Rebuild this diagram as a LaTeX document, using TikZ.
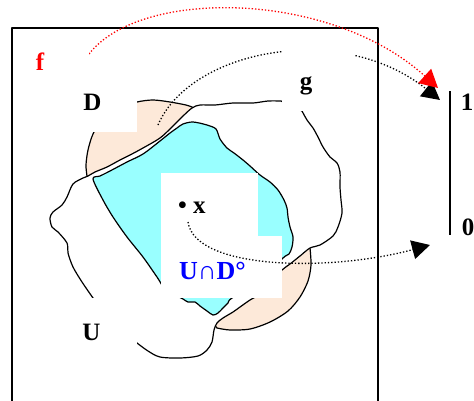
\documentclass[tikz,border=0pt]{standalone}
\usepackage{fontspec}
\setmainfont{Liberation Serif}
\usetikzlibrary{arrows.meta}
\definecolor{peach}{RGB}{253,233,217}
\definecolor{aqua}{RGB}{153,255,255}
\begin{document}
\begin{tikzpicture}[x=1pt, y=-1pt, line join=round,
  every node/.style={font=\fontsize{25}{28}\selectfont\bfseries, inner sep=0pt},
  mask/.style={fill=white},
  edge/.style={line width=1.2pt},
  link/.style={dotted, line width=1.3pt},
  tip/.style={-{Triangle[length=18pt,width=19pt]}}]
\clip (0,0) rectangle (474,400);
\draw[line width=1.5pt] (12,28) rectangle (378,410);
% the disc D, the set U and their intersection
\filldraw[edge, fill=peach] plot[smooth] coordinates {(87,176) (86,165) (88,150) (93,134) (102,120) (118,108) (137,102) (153,100) (170,102) (186,105) (192,107)}
  -- plot[smooth] coordinates {(310,248) (311,265) (308,281) (300,297) (288,311) (270,322) (250,329) (230,330) (217,328)} -- cycle;
\filldraw[edge, fill=white] plot[smooth] coordinates {(93,298) (82,282) (73,267) (68,253) (67,243) (58,232) (52,227) (50,218) (53,212) (62,205) (67,197) (73,184) (83,178) (88,176) (95,172) (107,167) (120,160) (130,155) (143,148) (160,138) (172,127) (182,117) (192,108) (200,105) (215,105) (233,103) (253,103) (268,101) (281,101)}
  -- plot[smooth] coordinates {(302,111) (307,120) (313,128) (318,137) (323,147) (330,157) (337,163) (340,172) (340,187) (341,200) (342,213) (338,227) (333,236) (320,245) (310,248) (300,256) (290,264) (282,270) (270,283) (260,294) (250,300) (240,307) (233,312) (223,318) (217,323) (214,330) (212,342) (207,350) (198,356) (180,358) (160,357) (148,351) (137,343)} -- cycle;
\filldraw[edge, fill=aqua] plot[smooth cycle] coordinates {(93,179) (100,176) (110,171) (127,162) (143,154) (160,141) (170,133) (177,128) (183,124) (193,122) (207,125) (216,129) (220,139) (227,148) (234,153) (243,160) (250,166) (260,175) (270,182) (278,190) (284,200) (287,208) (288,217) (290,227) (293,237) (292,247) (289,254) (283,258) (262,280) (232,298) (228,303) (223,308) (218,313) (213,315) (207,311) (200,306) (195,302) (188,302) (183,299) (166,290) (157,277) (143,257) (127,237) (113,217) (103,200)};
% maps into the interval
\coordinate (fstart) at (89,54);
\coordinate (fend) at (438,88);
\coordinate (gstart) at (158,125);
\coordinate (gend) at (440,100);
\coordinate (xstart) at (188,222);
\coordinate (xend) at (430,245);
\coordinate (itop) at (450,91);
\coordinate (ibottom) at (450,235);
\draw[link, tip] (gstart) .. controls (190,50) and (340,20) .. (gend);
\draw[link, red, tip] (fstart) .. controls (140,-12) and (330,-10) .. (fend);
\node[mask, minimum width=69pt, minimum height=45pt] (fmask) at (54.5,57.5) {};
\node[mask, minimum width=59pt, minimum height=44pt] (Dmask) at (107.5,110) {};
\node[mask, minimum width=72pt, minimum height=66pt] (gmask) at (318,78) {};
\node[mask, minimum width=62pt, minimum height=62pt] (Umask) at (106,329) {};
\node[mask, minimum width=97pt, minimum height=63pt] (xmask) at (209.5,204.5) {};
\node[mask, minimum width=121pt, minimum height=62pt] (UDmask) at (221.5,267) {};
\node[red, anchor=base] (f) at (40,70) {f};
\node[anchor=base] (D) at (92.5,110) {D};
\node[anchor=base] (g) at (306,89) {g};
\node[anchor=base] (U) at (91.5,340) {U};
\node[anchor=base west] (x) at (178,213) {• x};
\node[blue, anchor=base west, font=\fontsize{26}{28}\selectfont\bfseries] (UD) at (179,279) {U∩D°};
\draw[link, tip] (xstart) .. controls (195,270) and (330,272) .. (xend);
\draw[line width=1.5pt] (itop) -- (ibottom);
\node[anchor=base] (one) at (467,110) {1};
\node[anchor=base] (zero) at (468,235) {0};
\end{tikzpicture}
\end{document}
